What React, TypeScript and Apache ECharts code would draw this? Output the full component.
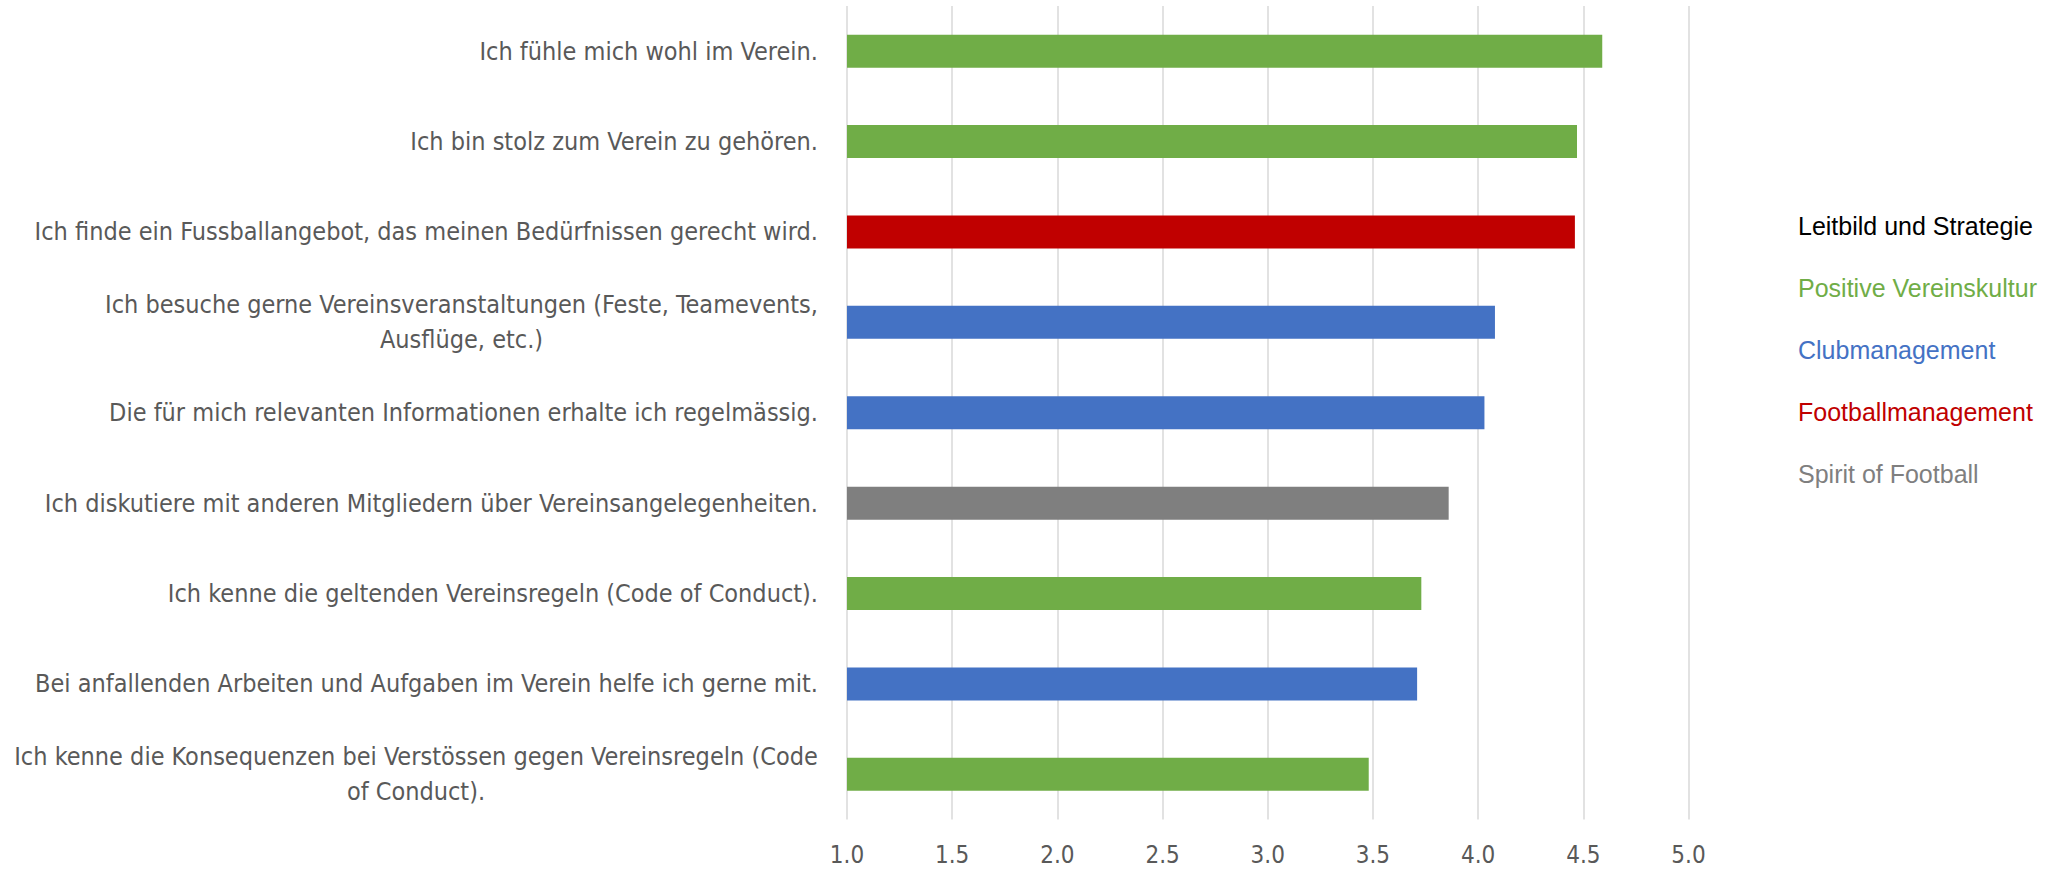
import React, { useEffect, useRef } from "react";
import * as echarts from "echarts";

const categories: string[] = [
  "Ich fühle mich wohl im Verein.",
  "Ich bin stolz zum Verein zu gehören.",
  "Ich finde ein Fussballangebot, das meinen Bedürfnissen gerecht wird.",
  "Ich besuche gerne Vereinsveranstaltungen (Feste, Teamevents,\nAusflüge, etc.)",
  "Die für mich relevanten Informationen erhalte ich regelmässig.",
  "Ich diskutiere mit anderen Mitgliedern über Vereinsangelegenheiten.",
  "Ich kenne die geltenden Vereinsregeln (Code of Conduct).",
  "Bei anfallenden Arbeiten und Aufgaben im Verein helfe ich gerne mit.",
  "Ich kenne die Konsequenzen bei Verstössen gegen Vereinsregeln (Code\nof Conduct).",
];

const values: number[] = [4.59, 4.47, 4.46, 4.08, 4.03, 3.86, 3.73, 3.71, 3.48];

const groups: string[] = [
  "Positive Vereinskultur",
  "Positive Vereinskultur",
  "Footballmanagement",
  "Clubmanagement",
  "Clubmanagement",
  "Spirit of Football",
  "Positive Vereinskultur",
  "Clubmanagement",
  "Positive Vereinskultur",
];

const legendNames: string[] = [
  "Leitbild und Strategie",
  "Positive Vereinskultur",
  "Clubmanagement",
  "Footballmanagement",
  "Spirit of Football",
];

const legendColors: string[] = ["#000000", "#70AD47", "#4472C4", "#C00000", "#7F7F7F"];

const xTicks = { min: 1, max: 5, interval: 0.5 };

const LABEL_FONT = "'Liberation Sans Narrow', 'DejaVu Sans Condensed', 'Roboto Condensed', sans-serif";
const LABEL_SIZE = 25;

export default function App() {
  const ref = useRef<HTMLDivElement>(null);

  useEffect(() => {
    document.body.style.margin = "0";
    if (!ref.current) return;
    const chart = echarts.init(ref.current, undefined, { renderer: "svg" });

    const canvas = document.createElement("canvas");
    const ctx = canvas.getContext("2d")!;
    ctx.font = `${LABEL_SIZE}px ${LABEL_FONT}`;

    const rich: Record<string, any> = {};
    categories.forEach((c, i) => {
      const lines = c.split("\n");
      if (lines.length > 1) {
        const w = Math.max(...lines.map((l) => ctx.measureText(l).width));
        rich["w" + i] = {
          width: Math.ceil(w),
          align: "center",
          fontSize: LABEL_SIZE,
          fontFamily: LABEL_FONT,
          color: "#595959",
          lineHeight: 35,
        };
      }
    });

    const series = legendNames.map((name, si) => ({
      name,
      type: "bar",
      barWidth: 33,
      barGap: "-100%",
      itemStyle: { color: legendColors[si] },
      data: values.map((v, i) => (groups[i] === name ? v : null)),
    }));

    chart.setOption({
      animation: false,
      grid: {
        left: 847,
        right: 373.5,
        top: 6,
        bottom: 50.5,
        containLabel: false,
        outerBoundsMode: "none",
      },
      legend: {
        orient: "vertical",
        left: 1788,
        top: 208,
        icon: "none",
        itemWidth: 0,
        itemHeight: 25,
        itemGap: 37,
        selectedMode: false,
        textStyle: { fontSize: 25, fontFamily: "'Liberation Sans', Arial, sans-serif" },
        data: legendNames.map((n, i) => ({ name: n, textStyle: { color: legendColors[i] } })),
      },
      xAxis: {
        type: "value",
        min: xTicks.min,
        max: xTicks.max,
        interval: xTicks.interval,
        axisLine: { show: false },
        axisTick: { show: false },
        splitLine: { show: true, lineStyle: { color: "#D9D9D9", width: 1.5 } },
        axisLabel: {
          formatter: (v: number) => v.toFixed(1),
          fontSize: 24,
          fontFamily: LABEL_FONT,
          color: "#595959",
          margin: 23,
        },
      },
      yAxis: {
        type: "category",
        inverse: true,
        data: categories,
        axisLine: { show: false },
        axisTick: { show: false },
        splitLine: { show: false },
        axisLabel: {
          fontSize: LABEL_SIZE,
          fontFamily: LABEL_FONT,
          color: "#595959",
          margin: 29,
          lineHeight: 35,
          interval: 0,
          formatter: (v: string) => {
            const i = categories.indexOf(v);
            const lines = v.split("\n");
            if (lines.length > 1) return lines.map((l) => `{w${i}|${l}}`).join("\n");
            return v;
          },
          rich,
        },
      },
      series,
    });

    return () => chart.dispose();
  }, []);

  return <div ref={ref} style={{ width: 2062, height: 870 }} />;
}
